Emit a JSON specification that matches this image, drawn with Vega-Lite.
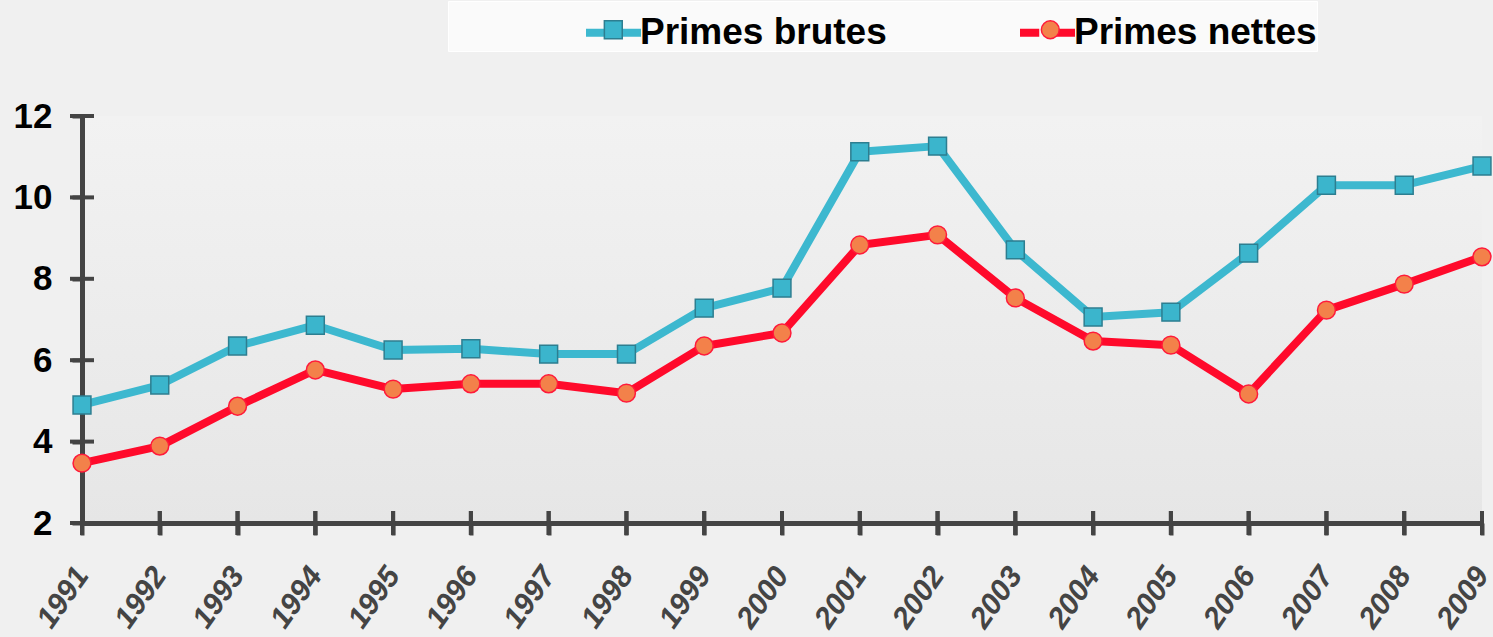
{
  "$schema": "https://vega.github.io/schema/vega-lite/v6.json",
  "width": 1400,
  "height": 407,
  "autosize": "none",
  "padding": {"left": 82, "top": 116, "right": 11, "bottom": 114},
  "background": "#f0f0f0",
  "config": {
    "font": "Liberation Sans",
    "view": {
      "stroke": null,
      "fill": {"gradient": "linear", "x1": 0, "y1": 0, "x2": 0, "y2": 1,
        "stops": [{"offset": 0, "color": "#f2f2f2"}, {"offset": 1, "color": "#e6e6e6"}]}
    }
  },
  "datasets": {
    "primes": [
      {"year": 1991, "series": "Primes brutes", "value": 4.90},
      {"year": 1992, "series": "Primes brutes", "value": 5.39},
      {"year": 1993, "series": "Primes brutes", "value": 6.35},
      {"year": 1994, "series": "Primes brutes", "value": 6.86},
      {"year": 1995, "series": "Primes brutes", "value": 6.25},
      {"year": 1996, "series": "Primes brutes", "value": 6.28},
      {"year": 1997, "series": "Primes brutes", "value": 6.15},
      {"year": 1998, "series": "Primes brutes", "value": 6.15},
      {"year": 1999, "series": "Primes brutes", "value": 7.28},
      {"year": 2000, "series": "Primes brutes", "value": 7.77},
      {"year": 2001, "series": "Primes brutes", "value": 11.12},
      {"year": 2002, "series": "Primes brutes", "value": 11.26},
      {"year": 2003, "series": "Primes brutes", "value": 8.71},
      {"year": 2004, "series": "Primes brutes", "value": 7.06},
      {"year": 2005, "series": "Primes brutes", "value": 7.18},
      {"year": 2006, "series": "Primes brutes", "value": 8.63},
      {"year": 2007, "series": "Primes brutes", "value": 10.30},
      {"year": 2008, "series": "Primes brutes", "value": 10.30},
      {"year": 2009, "series": "Primes brutes", "value": 10.77},
      {"year": 1991, "series": "Primes nettes", "value": 3.47},
      {"year": 1992, "series": "Primes nettes", "value": 3.89},
      {"year": 1993, "series": "Primes nettes", "value": 4.87},
      {"year": 1994, "series": "Primes nettes", "value": 5.76},
      {"year": 1995, "series": "Primes nettes", "value": 5.29},
      {"year": 1996, "series": "Primes nettes", "value": 5.42},
      {"year": 1997, "series": "Primes nettes", "value": 5.42},
      {"year": 1998, "series": "Primes nettes", "value": 5.19},
      {"year": 1999, "series": "Primes nettes", "value": 6.35},
      {"year": 2000, "series": "Primes nettes", "value": 6.67},
      {"year": 2001, "series": "Primes nettes", "value": 8.83},
      {"year": 2002, "series": "Primes nettes", "value": 9.08},
      {"year": 2003, "series": "Primes nettes", "value": 7.53},
      {"year": 2004, "series": "Primes nettes", "value": 6.47},
      {"year": 2005, "series": "Primes nettes", "value": 6.37},
      {"year": 2006, "series": "Primes nettes", "value": 5.17},
      {"year": 2007, "series": "Primes nettes", "value": 7.23},
      {"year": 2008, "series": "Primes nettes", "value": 7.87},
      {"year": 2009, "series": "Primes nettes", "value": 8.54}
    ],
    "yticks": [{"v": 2}, {"v": 4}, {"v": 6}, {"v": 8}, {"v": 10}, {"v": 12}]
  },
  "data": {"name": "primes"},
  "layer": [
    {
      "mark": {"type": "tick", "orient": "vertical", "size": 24, "thickness": 4, "color": "#444444", "opacity": 1},
      "encoding": {
        "x": {"field": "year", "type": "quantitative"},
        "y": {"datum": 2, "type": "quantitative"}
      }
    },
    {
      "data": {"name": "yticks"},
      "mark": {"type": "tick", "orient": "horizontal", "size": 24, "thickness": 4, "color": "#444444", "opacity": 1},
      "encoding": {
        "x": {"datum": 1991, "type": "quantitative"},
        "y": {"field": "v", "type": "quantitative"}
      }
    },
    {
      "mark": {"type": "line", "strokeWidth": 8, "strokeJoin": "round", "strokeCap": "round"},
      "encoding": {
        "x": {"field": "year", "type": "quantitative",
          "scale": {"domain": [1991, 2009], "nice": false, "zero": false},
          "axis": {"values": [1991,1992,1993,1994,1995,1996,1997,1998,1999,2000,2001,2002,2003,2004,2005,2006,2007,2008,2009],
            "format": "d", "title": null, "grid": false, "labelAngle": -55,
            "labelFont": "Liberation Sans", "labelFontSize": 30, "labelFontWeight": "bold", "labelFontStyle": "italic",
            "labelColor": "#444444", "domainColor": "#444444", "domainWidth": 5, "tickColor": "#444444",
            "tickWidth": 4, "tickSize": 12, "labelPadding": 35, "labelOverlap": false, "labelFlush": false, "labelBound": false}},
        "y": {"field": "value", "type": "quantitative",
          "scale": {"domain": [2, 12], "nice": false, "zero": false},
          "axis": {"values": [2, 4, 6, 8, 10, 12], "title": null, "grid": false,
            "labelFont": "Liberation Sans", "labelFontSize": 35, "labelFontWeight": "bold", "labelColor": "#000000",
            "domainColor": "#444444", "domainWidth": 5, "tickColor": "#444444", "tickWidth": 4, "tickSize": 10,
            "labelPadding": 20, "labelFlush": false, "labelBound": false}},
        "color": {"field": "series", "type": "nominal",
          "scale": {"domain": ["Primes brutes", "Primes nettes"], "range": ["#3db8cf", "#ff0a2b"]},
          "legend": {"orient": "none", "legendX": 366, "legendY": -115, "direction": "horizontal",
            "title": "\u00a0", "titleOrient": "left", "titlePadding": 134, "titleFontSize": 37, "titleFontWeight": "bold",
            "symbolType": "M-1,0L-0.3,0M0.3,0L1,0", "symbolSize": 3025, "symbolStrokeWidth": 8,
            "labelFont": "Liberation Sans", "labelFontSize": 37, "labelFontWeight": "bold", "labelColor": "#000000",
            "labelOffset": -5, "columnPadding": 117, "padding": 0, "labelLimit": 600,
            "fillColor": "#fafafa", "strokeColor": "#ffffff", "zindex": 0}}
      }
    },
    {
      "mark": {"type": "point", "filled": true, "strokeWidth": 1.5, "opacity": 1, "size": 320},
      "encoding": {
        "x": {"field": "year", "type": "quantitative"},
        "y": {"field": "value", "type": "quantitative"},
        "shape": {"field": "series", "type": "nominal", "scale": {"range": ["square", "circle"]},
          "legend": {"orient": "none", "legendX": 512.8, "legendY": -105, "direction": "horizontal", "title": null,
            "symbolSize": 320, "symbolStrokeWidth": 1.5, "labelFontSize": 37, "labelFontWeight": "bold",
            "labelOpacity": 0, "labelOffset": 36, "columnPadding": 117, "padding": 0, "labelLimit": 400, "zindex": 2}},
        "fill": {"field": "series", "type": "nominal", "scale": {"range": ["#3bb5cc", "#f3814a"]},
          "legend": {"orient": "none", "legendX": 512.8, "legendY": -105, "direction": "horizontal", "title": null,
            "symbolSize": 320, "symbolStrokeWidth": 1.5, "labelFontSize": 37, "labelFontWeight": "bold",
            "labelOpacity": 0, "labelOffset": 36, "columnPadding": 117, "padding": 0, "labelLimit": 400, "zindex": 2}},
        "stroke": {"field": "series", "type": "nominal", "scale": {"range": ["#2d7e90", "#ff1a3a"]},
          "legend": {"orient": "none", "legendX": 512.8, "legendY": -105, "direction": "horizontal", "title": null,
            "symbolSize": 320, "symbolStrokeWidth": 1.5, "labelFontSize": 37, "labelFontWeight": "bold",
            "labelOpacity": 0, "labelOffset": 36, "columnPadding": 117, "padding": 0, "labelLimit": 400, "zindex": 2}}
      }
    }
  ]
}
